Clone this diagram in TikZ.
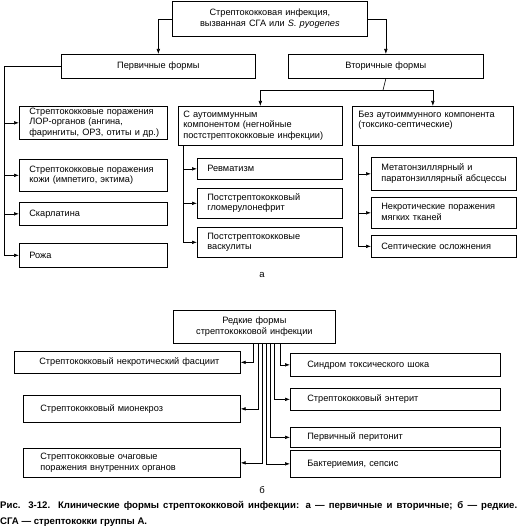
\documentclass[tikz,border=0pt]{standalone}
\usepackage{fontspec}
\setmainfont{Liberation Sans}
\usetikzlibrary{arrows.meta}
\newcommand\tl[1]{\begin{tabular}{@{}l@{}}#1\end{tabular}}
\newcommand\tc[1]{\begin{tabular}{@{}c@{}}#1\end{tabular}}
\begin{document}
\begin{tikzpicture}[x=1pt,y=-1pt,
  every node/.style={font=\fontsize{9.2}{10.4}\selectfont},
  bx/.style={draw, line width=0.7pt, anchor=north west, inner xsep=10pt, inner ysep=0pt, align=left},
  cbx/.style={bx, align=center},
  lbx/.style={bx, inner xsep=17pt},
  ln/.style={line width=0.6pt},
  arr/.style={ln, -{Latex[length=5pt,width=3.6pt]}},
  lab/.style={font=\fontsize{9.5}{10}\selectfont}]
\useasboundingbox (0,0) rectangle (518,532);

% ---------- part a ----------
\node[cbx, text width=175pt, minimum height=35pt] (top) at (172,1)
  {\tc{Стрептококковая инфекция,\\ вызванная СГА или \textit{S. pyogenes}}};
\node[cbx, text width=174pt, minimum height=24pt] (prim) at (61,54) {Первичные формы};
\node[cbx, text width=175pt, minimum height=24pt] (sec) at (288,54) {Вторичные формы};

\node[bx, text width=128pt, minimum height=33pt] (p1) at (19,106)
  {\tl{Стрептококковые поражения\\ЛОР-органов (ангина,\\фарингиты, ОРЗ, отиты и др.)}};
\node[bx, text width=128pt, minimum height=32pt] (p2) at (19,159)
  {\tl{Стрептококковые поражения\\кожи (импетиго, эктима)}};
\node[bx, text width=128pt, minimum height=23pt] (p3) at (19,202) {Скарлатина};
\node[bx, text width=128pt, minimum height=24pt] (p4) at (19,243) {Рожа};

\node[bx, inner xsep=5pt, text width=154pt, minimum height=39pt] (a0) at (178,106)
  {\tl{С аутоиммунным\\компонентом (негнойные\\постстрептококковые инфекции)}};
\node[bx, text width=125pt, minimum height=21pt] (a1) at (197,158) {Ревматизм};
\node[bx, text width=125pt, minimum height=30pt] (a2) at (197,188)
  {\tl{Постстрептококковый\\гломерулонефрит}};
\node[bx, text width=125pt, minimum height=30pt] (a3) at (197,227)
  {\tl{Постстрептококковые\\васкулиты}};

\node[bx, inner xsep=6pt, text width=149pt, minimum height=39pt] (b0) at (352,106)
  {\tl{Без аутоиммунного компонента\\(токсико-септические)\\\mbox{}}};
\node[bx, text width=125pt, minimum height=33pt] (b1) at (371,157)
  {\tl{Метатонзиллярный и\\паратонзиллярный абсцессы}};
\node[bx, text width=125pt, minimum height=31pt] (b2) at (371,197)
  {\tl{Некротические поражения\\мягких тканей}};
\node[bx, text width=125pt, minimum height=22pt] (b3) at (371,235) {Септические осложнения};

\node[lab] (la) at (262,275) {а};

% connectors part a
\draw[arr] (top.west) -| (prim.north);
\draw[arr] (top.east) -| (sec.north);
\coordinate (lx) at (4,66);
\draw[ln] (prim.west |- lx) -- (lx) -- (lx |- p4.west);
\draw[arr] (lx |- p1.west) -- (p1.west);
\draw[arr] (lx |- p2.west) -- (p2.west);
\draw[arr] (lx |- p3.west) -- (p3.west);
\draw[arr] (lx |- p4.west) -- (p4.west);

\coordinate (sj) at (383,90);
\draw[ln] (sec.south) -- (sj);
\draw[arr] (sj) -| (a0.north);
\draw[arr] (sj) -| (b0.north);

\coordinate (ax) at (183,145);
\draw[arr] (ax) |- (a3.west);
\draw[arr] (ax |- a1.west) -- (a1.west);
\draw[arr] (ax |- a2.west) -- (a2.west);

\coordinate (bxx) at (358,145);
\draw[arr] (bxx) |- (b3.west);
\draw[arr] (bxx |- b1.west) -- (b1.west);
\draw[arr] (bxx |- b2.west) -- (b2.west);

% ---------- part b ----------
\node[cbx, text width=142pt, minimum height=33pt] (r0) at (173,310)
  {\tc{Редкие формы\\стрептококковой инфекции}};

\node[lbx, text width=192pt, minimum height=22pt] (l1) at (14,351)
  {\hspace*{8pt}Стрептококковый некротический фасциит};
\node[lbx, text width=183pt, minimum height=27pt] (l2) at (23,395) {Стрептококковый мионекроз};
\node[lbx, text width=183pt, minimum height=29pt] (l3) at (23,448)
  {\tl{Стрептококковые очаговые\\поражения внутренних органов}};

\node[lbx, text width=176pt, minimum height=23pt] (s1) at (290,353) {Синдром токсического шока};
\node[lbx, text width=176pt, minimum height=22pt] (s2) at (290,388) {Стрептококковый энтерит};
\node[lbx, text width=176pt, minimum height=20pt] (s3) at (290,427) {Первичный перитонит};
\node[lbx, text width=176pt, minimum height=27pt] (s4) at (290,450) {Бактериемия, сепсис};

\coordinate (d1) at (253,343);
\coordinate (d2) at (258,343);
\coordinate (d3) at (262,343);
\coordinate (d4) at (266,343);
\coordinate (d5) at (270,343);
\coordinate (d6) at (274,343);
\coordinate (d7) at (280,343);
\draw[arr] (d1) |- (l1.east);
\draw[arr] (d2) |- (l2.east);
\draw[arr] (d3) |- (l3.east);
\draw[arr] (d4) |- (s4.west);
\draw[arr] (d5) |- (s3.west);
\draw[arr] (d6) |- (s2.west);
\draw[arr] (d7) |- (s1.west);

\node[lab] (lb) at (262,490) {б};

\node[anchor=north west, inner sep=0pt, text width=517pt, align=justify,
      font=\fontsize{9.6}{16}\selectfont\bfseries] (cap) at (0,501)
  {Рис. 3-12. Клинические формы стрептококковой инфекции: а~— первичные и вторичные; б~— редкие.\linebreak
   СГА~— стрептококки группы~А.};
\end{tikzpicture}
\end{document}
